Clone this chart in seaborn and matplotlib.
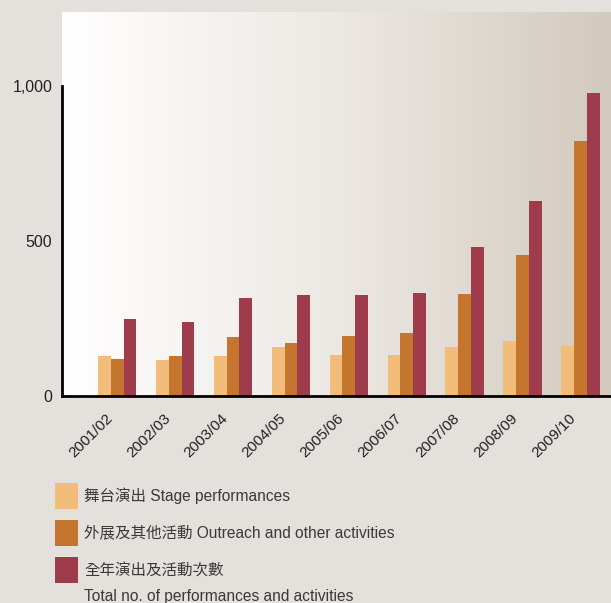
import numpy as np
import pandas as pd
import matplotlib
matplotlib.use("Agg")
import matplotlib.pyplot as plt
import seaborn as sns
from matplotlib.patches import Patch
from matplotlib.colors import LinearSegmentedColormap
from matplotlib.transforms import ScaledTranslation

# ---- data ----
seasons = ["2001/02", "2002/03", "2003/04", "2004/05", "2005/06",
           "2006/07", "2007/08", "2008/09", "2009/10"]
stage = [128, 115, 128, 157, 134, 131, 157, 176, 163]
outreach = [121, 128, 189, 170, 195, 202, 328, 454, 822]
total = [250, 238, 316, 325, 325, 334, 480, 631, 980]
series_names = ["舞台演出 Stage performances",
                "外展及其他活動 Outreach and other activities",
                "全年演出及活動次數"]
extra_line = "Total no. of performances and activities"
y_ticks = [0, 500, 1000]
y_tick_labels = ["0", "500", "1,000"]
colors = ["#f2bd7a", "#c4762e", "#9e3c4c"]

df = pd.DataFrame({
    "season": seasons * 3,
    "value": stage + outreach + total,
    "series": [series_names[0]] * 9 + [series_names[1]] * 9 + [series_names[2]] * 9,
})

sns.set_theme(style="white")
plt.rcParams["font.family"] = ["Liberation Sans", "Noto Sans CJK TC", "DejaVu Sans"]

W, H = 611, 603
fig = plt.figure(figsize=(W / 100, H / 100), dpi=100, facecolor="#e4e0db")
ax = fig.add_axes([62 / W, 1 - 396 / H, 1 - 62 / W, (396 - 12) / H])

# gradient background
cmap = LinearSegmentedColormap.from_list("bg", ["#ffffff", "#ece8e3", "#d2cabe"])
grad = np.linspace(0, 1, 256).reshape(1, -1)
ax.imshow(grad, cmap=cmap, aspect="auto", extent=[0, 1, 0, 1],
          transform=ax.transAxes, zorder=0)

sns.barplot(data=df, x="season", y="value", hue="series", palette=colors,
            width=0.67, gap=0, saturation=1, legend=False, ax=ax, zorder=2,
            linewidth=0, edgecolor="none")

ax.set_xlim(-0.95, 8.52)
ax.set_ylim(0, 1240)
ax.set_xlabel("")
ax.set_ylabel("")
ax.set_yticks(y_ticks)
ax.set_yticklabels(y_tick_labels)
ax.tick_params(axis="y", direction="in", length=4, width=2, color="black",
               pad=7, labelsize=11.5, labelcolor="#222222")
ax.tick_params(axis="x", length=0, pad=4, labelsize=11, labelcolor="#222222")
offset = ScaledTranslation(-0.12, -0.10, fig.dpi_scale_trans)
for lab in ax.get_xticklabels():
    lab.set_rotation(45)
    lab.set_ha("right")
    lab.set_rotation_mode("anchor")
    lab.set_transform(lab.get_transform() + offset)

for s in ["top", "right"]:
    ax.spines[s].set_visible(False)
for s in ["left", "bottom"]:
    ax.spines[s].set_color("black")
    ax.spines[s].set_linewidth(2)
    ax.spines[s].set_zorder(3)
ax.spines["left"].set_bounds(0, 1000)
ax.set_facecolor("none")

handles = [Patch(facecolor=c, edgecolor="none") for c in colors]
fig.legend(handles, series_names, loc="upper left",
           bbox_to_anchor=(55 / W, 1 - 483 / H), frameon=False,
           borderpad=0, borderaxespad=0, handlelength=1.48, handleheight=2.19,
           handletextpad=0.4, labelspacing=0.7, fontsize=11.2,
           labelcolor="#3a3a3a")
fig.text(84 / W, 1 - 596 / H, extra_line, fontsize=11.2, color="#3a3a3a",
         va="center", ha="left")

fig.savefig("out.png", dpi=100, facecolor=fig.get_facecolor())
